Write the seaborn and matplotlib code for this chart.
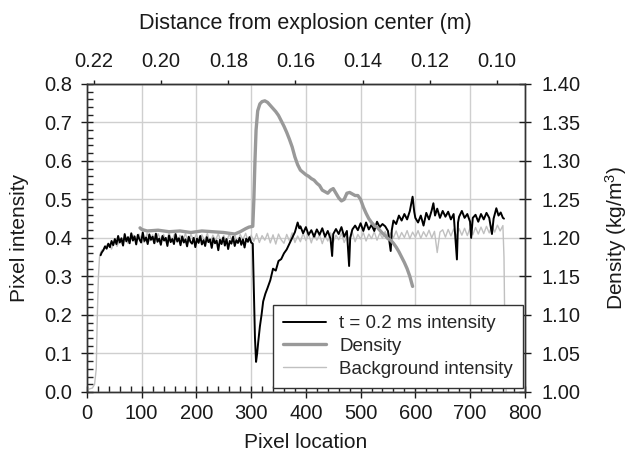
import numpy as np
import pandas as pd
import matplotlib
matplotlib.use("Agg")
import matplotlib.pyplot as plt
import seaborn as sns
from matplotlib.ticker import MultipleLocator, FixedLocator, FormatStrFormatter
from matplotlib.lines import Line2D

# ---------------- data ----------------
# t = 0.2 ms intensity (black)
black_x = ([25, 27] + list(range(30, 301, 3)) + [303,
           305, 307, 309, 311, 313, 316, 319, 322, 326, 330, 335, 340, 345, 350, 355, 360,
           365, 370, 375, 380, 385, 388, 390, 395, 400, 405, 410, 415, 420, 425, 430, 435,
           440, 445, 448, 450, 455, 460, 465, 470, 475, 479, 481, 485, 490, 495, 500, 505,
           510, 515, 520, 525, 530, 535, 540, 545, 550, 555, 557, 560, 565, 570, 575, 580,
           585, 590, 595, 598, 600, 605, 610, 615, 620, 625, 630, 633, 636, 640, 645, 650,
           655, 660, 665, 670, 676, 678, 680, 685, 690, 695, 700, 702, 705, 710, 715, 720,
           725, 730, 735, 740, 743, 748, 752, 756, 760, 762])
black_y = ([0.355, 0.362] +
           [0.368, 0.378, 0.372, 0.385, 0.376, 0.392, 0.381, 0.397, 0.384, 0.405, 0.388, 0.399, 0.380, 0.410, 0.391, 0.402, 0.386, 0.412, 0.393, 0.404,
            0.383, 0.408, 0.396, 0.388, 0.414, 0.392, 0.401, 0.384, 0.409, 0.395, 0.403, 0.386, 0.411, 0.390, 0.398, 0.382, 0.405, 0.393, 0.400, 0.379,
            0.406, 0.389, 0.397, 0.384, 0.410, 0.391, 0.399, 0.381, 0.404, 0.388, 0.396, 0.378, 0.403, 0.390, 0.385, 0.400, 0.376, 0.398, 0.387, 0.405,
            0.383, 0.394, 0.379, 0.402, 0.389, 0.396, 0.374, 0.399, 0.386, 0.393, 0.368, 0.395, 0.384, 0.401, 0.380, 0.397, 0.371, 0.392, 0.385, 0.403,
            0.379, 0.394, 0.387, 0.400, 0.382, 0.396, 0.375, 0.398, 0.390, 0.402, 0.388] +
           [0.385,
            0.260, 0.140, 0.078, 0.100, 0.130, 0.170, 0.200, 0.235, 0.255, 0.270, 0.290, 0.320, 0.315, 0.340, 0.345, 0.360,
            0.370, 0.385, 0.400, 0.415, 0.440, 0.425, 0.430, 0.412, 0.428, 0.408, 0.420, 0.403, 0.422, 0.408, 0.425, 0.403,
            0.418, 0.398, 0.353, 0.410, 0.423, 0.410, 0.428, 0.403, 0.418, 0.327, 0.400, 0.422, 0.432, 0.420, 0.438, 0.418,
            0.440, 0.422, 0.434, 0.418, 0.442, 0.428, 0.436, 0.430, 0.418, 0.366, 0.420, 0.445, 0.436, 0.458, 0.445, 0.462,
            0.448, 0.470, 0.507, 0.468, 0.452, 0.440, 0.458, 0.432, 0.465, 0.448, 0.472, 0.490, 0.458, 0.476, 0.452, 0.470,
            0.455, 0.468, 0.448, 0.462, 0.344, 0.440, 0.455, 0.470, 0.452, 0.462, 0.442, 0.400, 0.452, 0.460, 0.442, 0.462,
            0.448, 0.465, 0.452, 0.410, 0.450, 0.477, 0.458, 0.466, 0.452, 0.450])

# Background intensity (light grey)
bg_x = [0, 5, 10, 14, 17, 19, 21, 23, 25, 27] + list(range(30, 761, 5)) + [762, 764, 766]
bg_y = [0.005, 0.008, 0.010, 0.020, 0.060, 0.200, 0.300, 0.350, 0.362, 0.368,
        0.370, 0.380, 0.384, 0.371, 0.392, 0.378, 0.396, 0.383, 0.402, 0.386, 0.400, 0.407, 0.389, 0.410, 0.394,
        0.388, 0.412, 0.392, 0.408, 0.387, 0.411, 0.395, 0.409, 0.389, 0.413, 0.393, 0.410, 0.388, 0.407, 0.391, 0.412, 0.387, 0.409, 0.394, 0.410,
        0.389, 0.408, 0.392, 0.412, 0.386, 0.407, 0.394, 0.411, 0.388, 0.406, 0.390, 0.410, 0.393, 0.408, 0.386, 0.409, 0.395, 0.412, 0.389, 0.407,
        0.391, 0.411, 0.388, 0.406, 0.394, 0.412, 0.387, 0.408, 0.384, 0.410, 0.395, 0.386, 0.409, 0.392, 0.413, 0.388, 0.405, 0.390, 0.412, 0.393,
        0.409, 0.387, 0.411, 0.394, 0.408, 0.385, 0.406, 0.392, 0.413, 0.389, 0.407, 0.395, 0.412, 0.388, 0.405, 0.393, 0.414, 0.390, 0.409, 0.397,
        0.414, 0.392, 0.410, 0.398, 0.416, 0.394, 0.412, 0.399, 0.417, 0.396, 0.413, 0.400, 0.418, 0.397, 0.414, 0.401, 0.419, 0.398, 0.415, 0.402,
        0.419, 0.399, 0.416, 0.403, 0.420, 0.400, 0.417, 0.362, 0.415, 0.421, 0.402, 0.422, 0.405, 0.423, 0.404, 0.424, 0.407, 0.425, 0.406, 0.426,
        0.408, 0.427, 0.410, 0.428, 0.411, 0.430, 0.413, 0.432, 0.415, 0.433, 0.418, 0.432,
        0.350, 0.100, 0.000]

# Density (mid grey, right axis)
dens_x = [97, 100, 110, 130, 150, 170, 190, 210, 230, 250, 260, 270, 280, 290, 296, 303,
          305, 307, 309, 312, 316, 320, 325, 330, 335, 340, 345, 350, 355, 360, 365, 370,
          375, 380, 385, 390, 395, 400, 405, 410, 415, 420, 425, 430, 435, 440, 445, 450,
          455, 460, 465, 470, 475, 480, 485, 490, 495, 500, 505, 510, 515, 520, 525, 530,
          535, 540, 545, 550, 555, 560, 565, 570, 575, 580, 585, 590, 595]
dens_y = [1.213, 1.211, 1.209, 1.210, 1.208, 1.209, 1.207, 1.209, 1.208, 1.207, 1.206, 1.205, 1.208, 1.212, 1.214, 1.215,
          1.250, 1.300, 1.340, 1.365, 1.374, 1.377, 1.378, 1.376, 1.372, 1.368, 1.364, 1.359, 1.352, 1.345, 1.337, 1.328,
          1.318, 1.305, 1.295, 1.288, 1.285, 1.282, 1.280, 1.277, 1.275, 1.271, 1.268, 1.262, 1.260, 1.258, 1.262, 1.264,
          1.258, 1.252, 1.248, 1.250, 1.258, 1.259, 1.257, 1.255, 1.255, 1.250, 1.240, 1.232, 1.225, 1.220, 1.216, 1.214,
          1.210, 1.206, 1.203, 1.199, 1.197, 1.193, 1.188, 1.182, 1.175, 1.168, 1.160, 1.150, 1.137]

series_labels = ["t = 0.2 ms intensity", "Density", "Background intensity"]
top_ticks = [0.22, 0.20, 0.18, 0.16, 0.14, 0.12, 0.10]

# ---------------- style ----------------
sns.set_style("white")
plt.rcParams['font.family'] = ['Liberation Sans', 'DejaVu Sans']
plt.rcParams['mathtext.fontset'] = 'custom'
plt.rcParams['mathtext.rm'] = 'Liberation Sans'
plt.rcParams['mathtext.it'] = 'Liberation Sans:italic'

C_BLACK = "#000000"
C_DENS = "#999999"
C_BG = "#c0c0c0"
TXT = '#1a1a1a'
TICK_FS = 14.5
LAB_FS = 15

fig = plt.figure(figsize=(6.3, 4.66), dpi=100)
ax = fig.add_axes([0.138, 0.159, 0.695, 0.661])

sns.lineplot(x=bg_x, y=bg_y, ax=ax, color=C_BG, lw=1.0, estimator=None, sort=False, legend=False)
sns.lineplot(x=black_x, y=black_y, ax=ax, color=C_BLACK, lw=1.4, estimator=None, sort=False, legend=False)

ax2 = ax.twinx()
sns.lineplot(x=dens_x, y=dens_y, ax=ax2, color=C_DENS, lw=2.4, estimator=None, sort=False, legend=False)

ax.set_xlim(0, 800)
ax.set_ylim(0, 0.8)
ax2.set_ylim(1.0, 1.4)

ax.xaxis.set_major_locator(MultipleLocator(100))
ax.xaxis.set_minor_locator(MultipleLocator(20))
ax.yaxis.set_major_locator(MultipleLocator(0.1))
ax.yaxis.set_minor_locator(MultipleLocator(0.02))
ax.yaxis.set_major_formatter(FormatStrFormatter('%.1f'))
ax2.yaxis.set_major_locator(MultipleLocator(0.05))
ax2.yaxis.set_major_formatter(FormatStrFormatter('%.2f'))

ax.grid(True, which='major', color='#cfcfcf', lw=1.0)
ax.set_axisbelow(True)

for a in (ax, ax2):
    for s in a.spines.values():
        s.set_color('#333333')
        s.set_linewidth(1.0)

ax.tick_params(axis='both', which='major', direction='inout', length=8, width=1,
               labelsize=TICK_FS, colors=TXT, left=True, bottom=True)
ax.tick_params(axis='y', which='major', pad=6.5)
ax.tick_params(axis='x', which='major', pad=5)
ax.tick_params(axis='both', which='minor', direction='in', length=4, width=1,
               left=True, bottom=True, colors='#222222')
ax2.tick_params(axis='y', which='major', direction='inout', length=8, width=1,
                labelsize=TICK_FS, pad=8, colors=TXT, right=True)

# top axis: distance from explosion center
def px_to_dist(p):
    return 0.22 - (np.asarray(p, dtype=float) - 13.0) / 6133.0

def dist_to_px(d):
    return 13.0 + (0.22 - np.asarray(d, dtype=float)) * 6133.0

sec = ax.secondary_xaxis('top', functions=(px_to_dist, dist_to_px))
sec.xaxis.set_major_locator(FixedLocator(top_ticks))
sec.xaxis.set_major_formatter(FormatStrFormatter('%.2f'))
sec.tick_params(axis='x', direction='out', length=3, width=1, labelsize=TICK_FS, pad=6, colors=TXT)
sec.spines['top'].set_color('#333333')
sec.set_xlabel("Distance from explosion center (m)", fontsize=15.5, color=TXT, labelpad=17)

ax.set_xlabel("Pixel location", fontsize=LAB_FS, color=TXT)
ax.xaxis.set_label_coords(0.5, -0.135)
ax.set_ylabel("Pixel intensity", fontsize=LAB_FS, color=TXT)
ax.yaxis.set_label_coords(-0.132, 0.5)
ax2.set_ylabel(r"Density (kg/m$^{\mathrm{3}}$)", fontsize=LAB_FS, color=TXT)
ax2.yaxis.set_label_coords(1.178, 0.5)

handles = [Line2D([], [], color=C_BLACK, lw=1.4),
           Line2D([], [], color=C_DENS, lw=2.4),
           Line2D([], [], color=C_BG, lw=1.0)]
leg = ax2.legend(handles, series_labels, loc='lower right', bbox_to_anchor=(0.997, 0.013),
                 fontsize=13.5, frameon=True, fancybox=False, framealpha=1, edgecolor='#333333',
                 handlelength=2.3, handletextpad=0.7, borderpad=0.55, labelspacing=0.3,
                 borderaxespad=0)
leg.get_frame().set_linewidth(1.0)
leg.set_zorder(10)

fig.savefig("out.png", dpi=100)
